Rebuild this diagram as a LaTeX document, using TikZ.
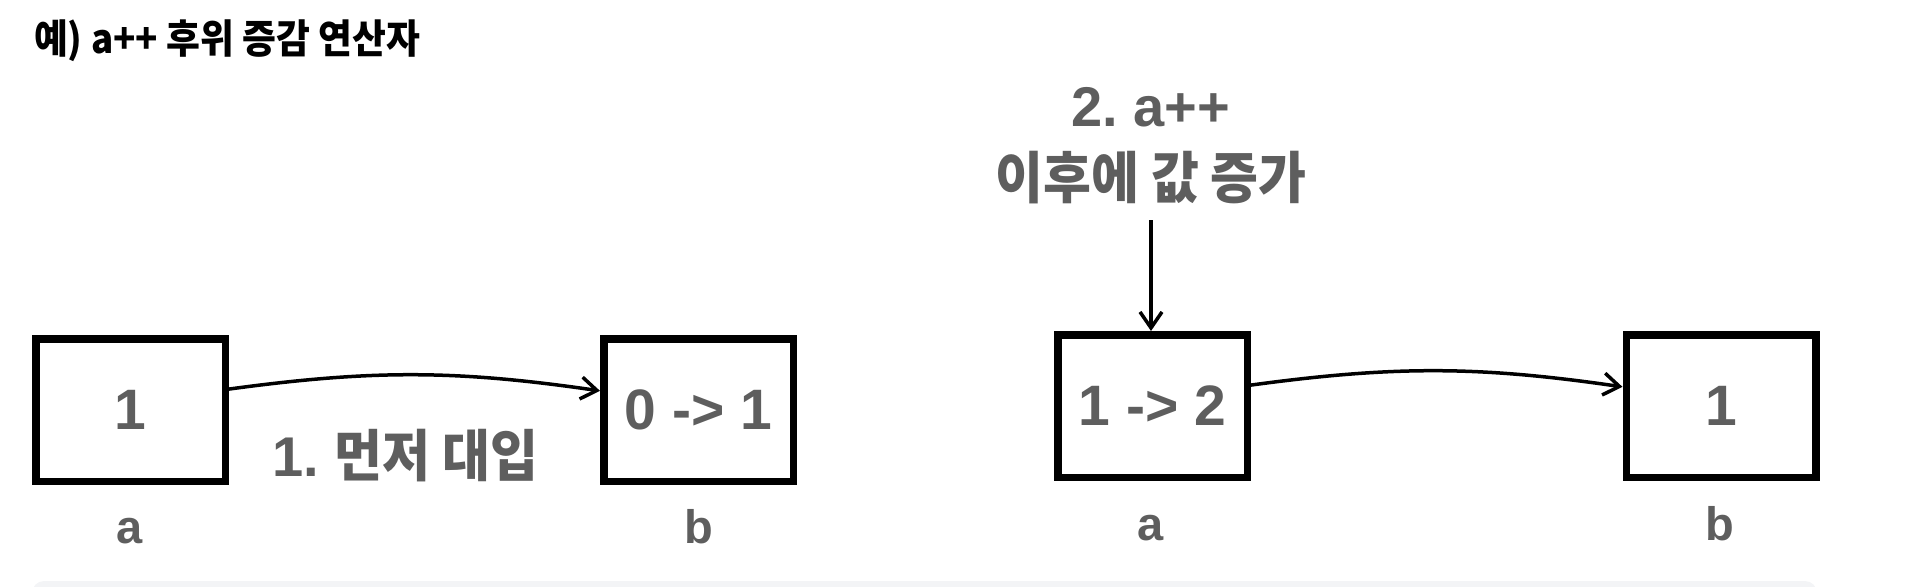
\documentclass[tikz,border=0pt]{standalone}
\usepackage{fontspec}
\setmainfont{Liberation Sans}
\newfontfamily\krfont{Noto Sans CJK KR}[FakeStretch=0.93]
\newfontfamily\titlefont{Noto Sans CJK KR}[FakeStretch=0.92]
\usetikzlibrary{arrows.meta}
\definecolor{txtgray}{HTML}{5E5E5E}
\definecolor{panelgray}{HTML}{F3F4F6}
\frenchspacing

\begin{document}
\begin{tikzpicture}[x=0.5pt,y=-0.5pt,
  cell/.style={draw=black,line width=3.75pt,minimum width=94.75pt,minimum height=71.25pt,inner sep=0pt,text=txtgray,font=\fontsize{28.5}{28.5}\selectfont\bfseries},
  varname/.style={anchor=base,text=txtgray,font=\fontsize{23.5}{23.5}\selectfont\bfseries},
  note/.style={text=txtgray,font=\fontsize{28}{36}\selectfont\bfseries,align=center},
  link/.style={line width=1.75pt,-{Straight Barb[length=8pt,width=11pt]}}]
\useasboundingbox (0,0) rectangle (1918,586);
\fill [panelgray,rounded corners=6pt] (32,581) rectangle (1817,640);
\node [anchor=west,font=\titlefont\fontsize{20}{20}\selectfont\bfseries] (title) at (27,41) {예) a++ 후위 증감 연산자};
\node [cell] (a1) at (130.5,410) {1};
\node [cell] (b1) at (698.5,410) {0 -> 1};
\node [cell] (a2) at (1152.5,406) {1 -> 2};
\node [cell] (b2) at (1721,406) {1};
\node [varname] (la1) at (130,543) {a};
\node [varname] (lb1) at (699,543) {b};
\node [varname] (la2) at (1151,540) {a};
\node [varname] (lb2) at (1720,540) {b};
\node [note] (assign) at (405,456) {1. {\krfont 먼저 대입}};
\node [note,anchor=south] (incr) at (1151,211) {2. a++\\{\krfont 이후에 값 증가}};
\coordinate (incstart) at (1151,220);
\draw [link] (a1.12) to[bend left=8] (b1.169);
\draw [link] (a2.12) to[bend left=8] (b2.169);
\draw [link] (incstart) -- (incstart |- a2.north);
\end{tikzpicture}
\end{document}
